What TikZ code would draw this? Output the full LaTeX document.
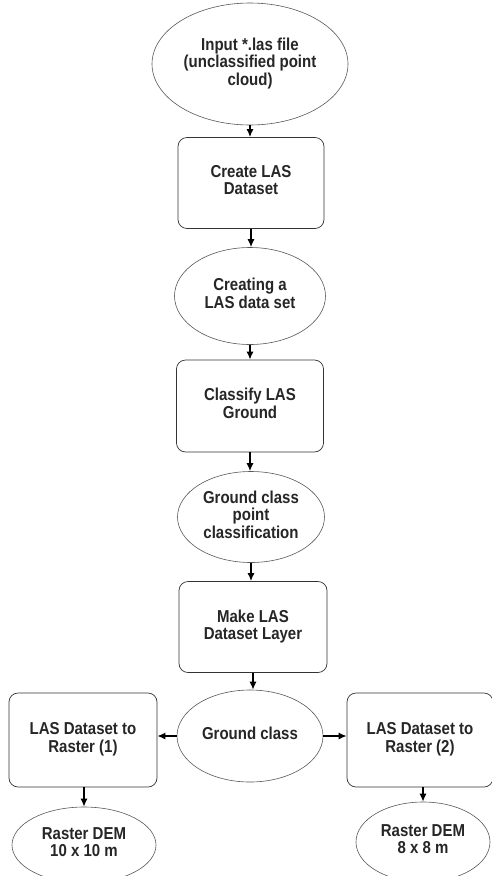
\documentclass[tikz,border=0pt]{standalone}
\usepackage{fontspec}
\setmainfont{Liberation Sans}
\usetikzlibrary{shapes.geometric,arrows.meta}
\newcommand\mytxt[1]{\scalebox{1}[1.15]{\begin{tabular}{@{}c@{}}#1\end{tabular}}}
\begin{document}
\begin{tikzpicture}[x=1pt,y=-1pt,
  txt/.style={font=\fontsize{15}{14.8}\selectfont\bfseries, text=black!85, align=center},
  ell/.style={txt, ellipse, draw=black!65, line width=0.6pt, inner sep=0pt},
  box/.style={txt, rectangle, rounded corners=9pt, draw=black!80, line width=0.7pt, inner sep=0pt},
  arr/.style={line width=1.4pt, -{Latex[length=8pt,width=7pt]}}]
\useasboundingbox[fill=white] (0,0) rectangle (491,876);
\node[ell, minimum width=196pt, minimum height=122pt] (in) at (250,64) {\mytxt{Input *.las file\\(unclassified point\\cloud)}};
\node[box, minimum width=146pt, minimum height=91pt] (cld) at (251,183) {\mytxt{Create LAS\\Dataset}};
\node[ell, minimum width=151pt, minimum height=97pt] (cds) at (250,296) {\mytxt{Creating a\\LAS data set}};
\node[box, minimum width=147pt, minimum height=92pt] (clg) at (250,406) {\mytxt{Classify LAS\\Ground}};
\node[ell, minimum width=147pt, minimum height=91pt] (gcp) at (251,517) {\mytxt{Ground class\\point\\classification}};
\node[box, minimum width=148pt, minimum height=91pt] (mdl) at (253,627) {\mytxt{Make LAS\\Dataset Layer}};
\node[ell, minimum width=146pt, minimum height=92pt] (gc) at (250,736) {\mytxt{Ground class}};
\node[box, minimum width=148pt, minimum height=94pt] (r1) at (83,740) {\mytxt{LAS Dataset to\\Raster (1)}};
\node[box, minimum width=146pt, minimum height=94pt] (r2) at (420,740) {\mytxt{LAS Dataset to\\Raster (2)}};
\node[ell, minimum width=144pt, minimum height=76pt] (d1) at (84,845) {\mytxt{Raster DEM\\10 x 10 m}};
\node[ell, minimum width=134pt, minimum height=80pt] (d2) at (423,842) {\mytxt{Raster DEM\\8 x 8 m}};
\draw[arr] (in.south) -- (in.south |- cld.north);
\draw[arr] (cld.south) -- (cld.south |- cds.north);
\draw[arr] (cds.south) -- (cds.south |- clg.north);
\draw[arr] (clg.south) -- (clg.south |- gcp.north);
\draw[arr] (gcp.south) -- (gcp.south |- mdl.north);
\draw[arr] (mdl.south) -- (mdl.south |- gc.north);
\draw[arr] (gc.west) -- (gc.west -| r1.east);
\draw[arr] (gc.east) -- (gc.east -| r2.west);
\draw[arr] (d1.north |- r1.south) -- (d1.north);
\draw[arr] (d2.north |- r2.south) -- (d2.north);
\end{tikzpicture}
\end{document}
